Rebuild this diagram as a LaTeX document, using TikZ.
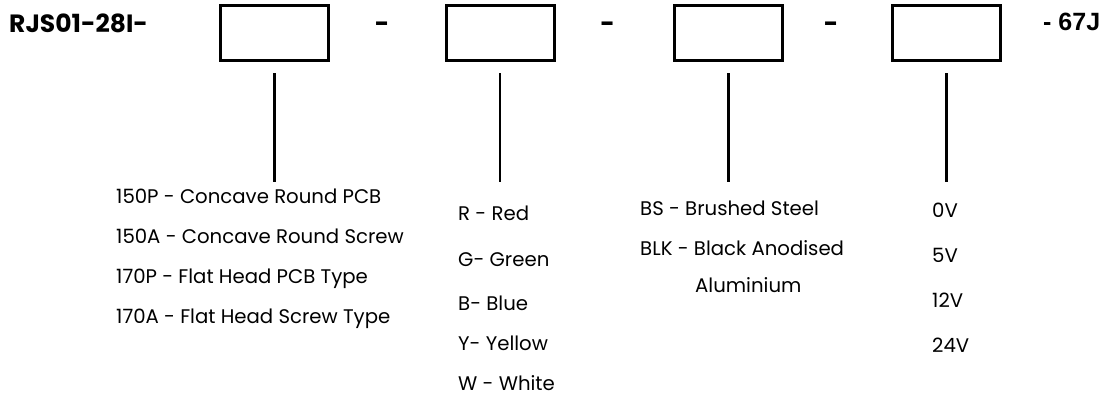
\documentclass[tikz,border=0pt]{standalone}
\usepackage{fontspec}
\setmainfont{Poppins}
\newfontfamily\sufont{Liberation Sans}
\begin{document}
\begin{tikzpicture}[x=1pt, y=-1pt,
  codebox/.style={draw, line width=3pt, minimum width=108pt, minimum height=55pt, inner sep=0pt},
  head/.style={anchor=base west, inner sep=0pt, font=\fontsize{25}{30}\selectfont\bfseries},
  sep/.style={anchor=base, inner sep=0pt, font=\fontsize{25}{30}\selectfont\bfseries},
  tail/.style={anchor=base west, inner sep=0pt, font=\sufont\fontsize{25}{30}\selectfont\bfseries},
  item/.style={anchor=base west, inner sep=0pt, font=\fontsize{19.7}{24}\selectfont},
  lead/.style={line width=2.5pt}]
\useasboundingbox (0,0) rectangle (1105,396);

% part number
\node[head] (pre) at (9,33) {RJS01-28I-};
\node[codebox] (head) at (274.5,33) {};
\node[sep] (d1) at (382,33) {-};
\node[codebox] (colour) at (500,33) {};
\node[sep] (d2) at (607.5,33) {-};
\node[codebox] (finish) at (728.5,33) {};
\node[sep] (d3) at (831,33) {-};
\node[codebox] (volt) at (946.5,33) {};
\node[tail] (suf) at (1043,31) {- 67J};

% leads
\foreach \b in {head, colour, finish, volt} {
  \coordinate (\b top) at ([yshift=-11pt]\b.south);
  \coordinate (\b end) at (\b top |- 0,182);
  \draw[lead] (\b top) -- (\b end);
}

% head types
\node[item] (h1) at (116,203) {150P - Concave Round PCB};
\node[item] (h2) at (116,243) {150A - Concave Round Screw};
\node[item] (h3) at (116,283) {170P - Flat Head PCB Type};
\node[item] (h4) at (116,323) {170A - Flat Head Screw Type};

% colours
\node[item] (c1) at (458,220) {R - Red};
\node[item] (c2) at (458,266) {G- Green};
\node[item] (c3) at (458,310) {B- Blue};
\node[item] (c4) at (458,350) {Y- Yellow};
\node[item] (c5) at (458,390) {W - White};

% finishes
\node[item] (f1) at (640,215) {BS - Brushed Steel};
\node[item] (f2) at (640,255) {BLK - Black Anodised};
\node[item] (f3) at (695,292) {Aluminium};

% voltages
\node[item] (v1) at (932,217) {0V};
\node[item] (v2) at (932,262) {5V};
\node[item] (v3) at (932,307) {12V};
\node[item] (v4) at (932,352) {24V};
\end{tikzpicture}
\end{document}
